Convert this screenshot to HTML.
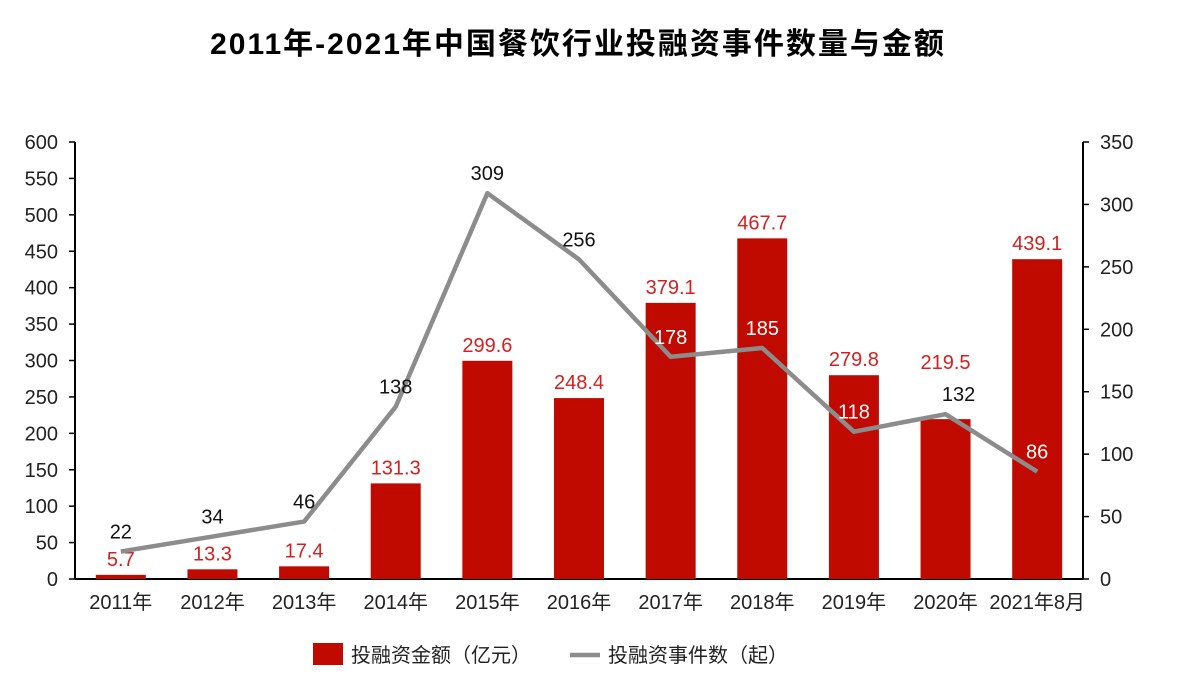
<!DOCTYPE html>
<html><head><meta charset="utf-8"><style>
body{margin:0;background:#fff;}
svg{display:block;font-family:"Liberation Sans","Noto Sans CJK SC",sans-serif;}
</style></head><body>
<svg id="c" width="1182" height="694">
<text x="578" y="54" text-anchor="middle" font-size="30" font-weight="bold" letter-spacing="2" fill="#000">2011年-2021年中国餐饮行业投融资事件数量与金额</text>
</svg>
<script>
const categories=["2011年","2012年","2013年","2014年","2015年","2016年","2017年","2018年","2019年","2020年","2021年8月"];
const amounts=[5.7,13.3,17.4,131.3,299.6,248.4,379.1,467.7,279.8,219.5,439.1];
const counts=[22,34,46,138,309,256,178,185,118,132,86];
const leftTicks=[0,50,100,150,200,250,300,350,400,450,500,550,600];
const rightTicks=[0,50,100,150,200,250,300,350];
const whiteCountLabels=[false,false,false,false,false,false,true,true,true,false,true];
const svg=document.getElementById('c');const NS='http://www.w3.org/2000/svg';
const X0=75,X1=1083,Y0=579,YT=142;
const step=(X1-X0)/categories.length;
const xc=i=>X0+step*(i+0.5);
const yL=v=>Y0-(v/600)*(Y0-YT);
const yR=v=>Y0-(v/350)*(Y0-YT);
function mk(t,a,txt){const e=document.createElementNS(NS,t);for(const k in a)e.setAttribute(k,a[k]);if(txt!==undefined)e.textContent=txt;svg.appendChild(e);return e;}
let e=mk('line',{x1:X0,y1:YT,x2:X0,y2:Y0,stroke:'#000','stroke-width':2});

e=mk('line',{x1:X1,y1:YT,x2:X1,y2:Y0,stroke:'#000','stroke-width':2});

e=mk('line',{x1:X0,y1:Y0,x2:X1,y2:Y0,stroke:'#000','stroke-width':2});

leftTicks.forEach(v=>{mk('line',{x1:X0-6,y1:yL(v),x2:X0,y2:yL(v),stroke:'#000','stroke-width':1.5});
const t=mk('text',{x:X0-17,y:yL(v)+7,'text-anchor':'end','font-size':20,fill:'#222'},v);
});
rightTicks.forEach(v=>{mk('line',{x1:X1,y1:yR(v),x2:X1+6,y2:yR(v),stroke:'#000','stroke-width':1.5});
const t=mk('text',{x:X1+17,y:yR(v)+7,'font-size':20,fill:'#222'},v);
});
categories.forEach((c,i)=>{const t=mk('text',{x:xc(i),y:609,'text-anchor':'middle','font-size':20,fill:'#222'},c);
});
amounts.forEach((v,i)=>{const b=mk('rect',{x:xc(i)-25,y:yL(v),width:50,height:Y0-yL(v),fill:'#c00a00'});

let ly=yL(v)-9;
if(i===9) ly=Math.min(ly,yR(counts[i])-45);
const t=mk('text',{x:xc(i),y:ly,'text-anchor':'middle','font-size':20,fill:'#d42020'},v);
});
const pts=counts.map((v,i)=>xc(i)+','+yR(v)).join(' ');
e=mk('polyline',{points:pts,fill:'none',stroke:'#8c8c8c','stroke-width':4.5,'stroke-linejoin':'round'});

counts.forEach((v,i)=>{const t=mk('text',{x:xc(i)+(i===9?13:0),y:yR(v)-13,'text-anchor':'middle','font-size':20,fill:whiteCountLabels[i]?'#fff':'#111'},v);
});
e=mk('rect',{x:313,y:643,width:30,height:22,fill:'#c00a00'});

e=mk('text',{x:351,y:662,'font-size':20,fill:'#222'},'投融资金额（亿元）');

e=mk('line',{x1:570,y1:655,x2:600,y2:655,stroke:'#8c8c8c','stroke-width':4.5});

e=mk('text',{x:608,y:662,'font-size':20,fill:'#222'},'投融资事件数（起）');

</script>
</body></html>
